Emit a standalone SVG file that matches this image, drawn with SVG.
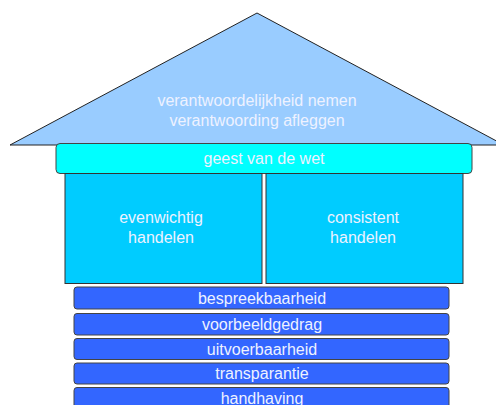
<svg xmlns="http://www.w3.org/2000/svg" width="496" height="405" viewBox="0 0 496 405">
<style>
text{font-family:"Liberation Sans",Arial,sans-serif;font-size:16px;fill:#EEF2FF;text-anchor:middle}
.bar{fill:#3366FF;stroke:#444;stroke-width:1}
.pil{fill:#00CCFF;stroke:#333;stroke-width:1}
</style>
<rect width="496" height="405" fill="#fff"/>
<g id="roof">
<polygon points="10,145 257,13 504,145" fill="#99CCFF" stroke="#222" stroke-width="1"/>
<text x="257" y="106">verantwoordelijkheid nemen</text>
<text x="257" y="126">verantwoording afleggen</text>
</g>
<g id="geest">
<rect x="56" y="143.5" width="416" height="30" rx="4" fill="#00FFFF" stroke="#444"/>
<text x="264" y="164">geest van de wet</text>
</g>
<g id="evenwichtig">
<rect class="pil" x="65" y="173.5" width="197" height="110"/>
<text x="161" y="223">evenwichtig</text>
<text x="161" y="243">handelen</text>
</g>
<g id="consistent">
<rect class="pil" x="266" y="173.5" width="197" height="110"/>
<text x="363" y="223">consistent</text>
<text x="363" y="243">handelen</text>
</g>
<g id="bespreekbaarheid">
<rect class="bar" x="74" y="287" width="375" height="22" rx="3"/>
<text x="262" y="303.5">bespreekbaarheid</text>
</g>
<g id="voorbeeldgedrag">
<rect class="bar" x="74" y="313.5" width="375" height="21.5" rx="3"/>
<text x="262" y="330">voorbeeldgedrag</text>
</g>
<g id="uitvoerbaarheid">
<rect class="bar" x="74" y="338.5" width="375" height="21" rx="3"/>
<text x="262" y="354.5">uitvoerbaarheid</text>
</g>
<g id="transparantie">
<rect class="bar" x="74" y="363" width="375" height="21" rx="3"/>
<text x="262" y="379">transparantie</text>
</g>
<g id="handhaving">
<rect class="bar" x="74" y="387.5" width="375" height="22" rx="3"/>
<text x="262" y="403.5">handhaving</text>
</g>
<g id="connectors"/>
</svg>
